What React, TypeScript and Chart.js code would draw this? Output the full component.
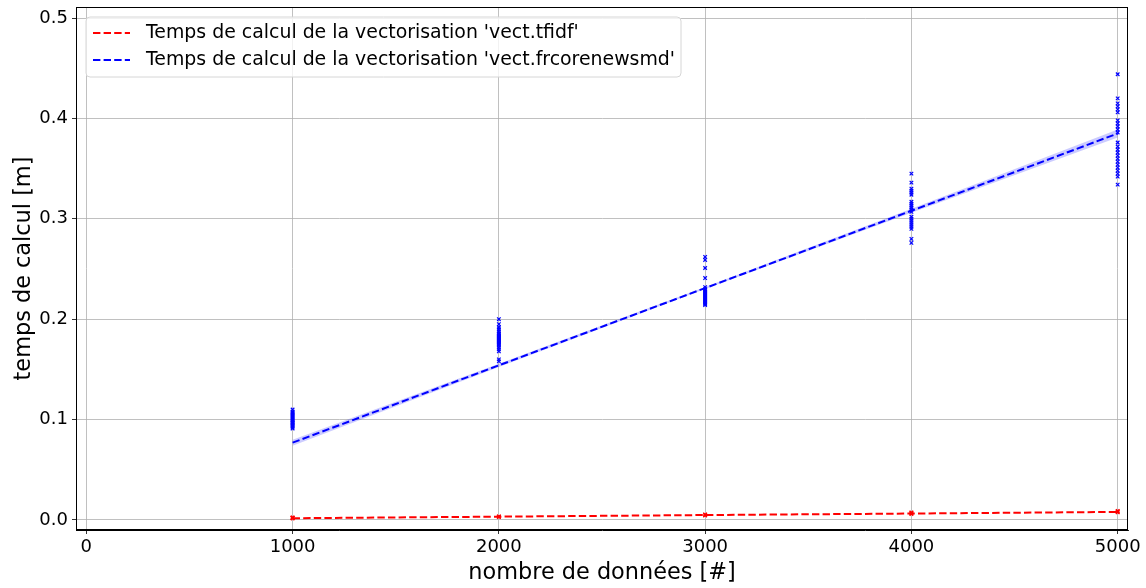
import React, { useEffect, useRef } from "react";
import { Chart, registerables } from "chart.js";

Chart.register(...registerables);

const xTicks = [0, 1000, 2000, 3000, 4000, 5000];
const yTicks = [0.0, 0.1, 0.2, 0.3, 0.4, 0.5];
const legendLabels = [
  "Temps de calcul de la vectorisation 'vect.tfidf'",
  "Temps de calcul de la vectorisation 'vect.frcorenewsmd'",
];
const xTitle = "nombre de données [#]";
const yTitle = "temps de calcul [m]";

const sizes = [1000, 2000, 3000, 4000, 5000];

const blue1000 = [0.110, 0.108, 0.107, 0.106, 0.105, 0.104, 0.103, 0.102, 0.101, 0.100, 0.099, 0.098, 0.097, 0.097, 0.096, 0.095, 0.094, 0.093, 0.092, 0.091];
const blue2000 = [0.200, 0.195, 0.192, 0.190, 0.188, 0.186, 0.185, 0.184, 0.183, 0.182, 0.181, 0.180, 0.179, 0.178, 0.177, 0.176, 0.175, 0.174, 0.172, 0.170, 0.168, 0.160, 0.158];
const blue3000 = [0.262, 0.259, 0.251, 0.241, 0.232, 0.230, 0.229, 0.228, 0.227, 0.226, 0.225, 0.224, 0.223, 0.222, 0.221, 0.220, 0.219, 0.218, 0.217, 0.216, 0.215, 0.214];
const blue4000 = [0.345, 0.336, 0.330, 0.328, 0.326, 0.324, 0.317, 0.315, 0.313, 0.311, 0.309, 0.307, 0.302, 0.300, 0.298, 0.296, 0.294, 0.292, 0.290, 0.280, 0.276];
const blue5000 = [0.444, 0.420, 0.415, 0.412, 0.409, 0.406, 0.398, 0.395, 0.392, 0.389, 0.386, 0.376, 0.372, 0.369, 0.366, 0.363, 0.360, 0.357, 0.354, 0.351, 0.348, 0.345, 0.342, 0.334];

const red1000 = [0.0015, 0.0018, 0.0020, 0.0022, 0.0025];
const red2000 = [0.0030, 0.0032, 0.0035];
const red3000 = [0.0045, 0.0050, 0.0055];
const red4000 = [0.0060, 0.0065, 0.0070, 0.0075];
const red5000 = [0.0075, 0.0080, 0.0085, 0.0090];

const blueFit = [0.077, 0.154, 0.231, 0.308, 0.385];
const blueLow = [0.074, 0.1525, 0.230, 0.306, 0.381];
const blueHigh = [0.080, 0.1555, 0.232, 0.310, 0.389];
const redFit = [0.0017, 0.0033, 0.0049, 0.0064, 0.0080];

const toPts = (x: number, ys: number[]) => ys.map((y) => ({ x, y }));
const line = (ys: number[]) => sizes.map((x, i) => ({ x, y: ys[i] }));

const FONT = "'DejaVu Sans', sans-serif";
const DASH = [7.4, 3.2];

const framePlugin = {
  id: "frameLegend",
  afterDraw(chart: any) {
    const { ctx, chartArea } = chart;
    ctx.save();
    ctx.strokeStyle = "#000";
    ctx.lineWidth = 1;
    ctx.strokeRect(chartArea.left + 0.5, chartArea.top + 0.5, chartArea.right - chartArea.left - 1, chartArea.bottom - chartArea.top - 1);

    // legend
    const bx = chartArea.left + 10;
    const by = chartArea.top + 10;
    const bw = 595;
    const bh = 60;
    const r = 4;
    ctx.beginPath();
    ctx.moveTo(bx + r, by);
    ctx.lineTo(bx + bw - r, by);
    ctx.quadraticCurveTo(bx + bw, by, bx + bw, by + r);
    ctx.lineTo(bx + bw, by + bh - r);
    ctx.quadraticCurveTo(bx + bw, by + bh, bx + bw - r, by + bh);
    ctx.lineTo(bx + r, by + bh);
    ctx.quadraticCurveTo(bx, by + bh, bx, by + bh - r);
    ctx.lineTo(bx, by + r);
    ctx.quadraticCurveTo(bx, by, bx + r, by);
    ctx.closePath();
    ctx.fillStyle = "rgba(255,255,255,0.8)";
    ctx.fill();
    ctx.strokeStyle = "#d6d6d6";
    ctx.stroke();

    const colors = ["#ff0000", "#0000ff"];
    ctx.font = `18.9px ${FONT}`;
    ctx.textBaseline = "middle";
    legendLabels.forEach((lab, i) => {
      const y = by + 16 + i * 27;
      ctx.beginPath();
      ctx.setLineDash(DASH);
      ctx.strokeStyle = colors[i];
      ctx.lineWidth = 2;
      ctx.moveTo(bx + 7, y);
      ctx.lineTo(bx + 44, y);
      ctx.stroke();
      ctx.setLineDash([]);
      ctx.fillStyle = "#000";
      ctx.fillText(lab, bx + 60, y);
    });
    ctx.restore();
  },
};

export default function App() {
  const ref = useRef<HTMLCanvasElement>(null);
  useEffect(() => {
    if (!ref.current) return;
    const scatterCommon = {
      showLine: false,
      pointStyle: "crossRot",
      pointRadius: 2.5,
      pointBorderWidth: 1.2,
    };
    const chart = new Chart(ref.current, {
      type: "scatter",
      data: {
        datasets: [
          {
            label: "low",
            data: line(blueLow),
            showLine: true,
            borderWidth: 0,
            borderColor: "rgba(0,0,0,0)",
            pointRadius: 0,
            fill: false,
          },
          {
            label: "high",
            data: line(blueHigh),
            showLine: true,
            borderWidth: 0,
            borderColor: "rgba(0,0,0,0)",
            backgroundColor: "rgba(0,0,255,0.2)",
            pointRadius: 0,
            fill: "-1",
          },
          {
            label: "blue pts",
            data: [
              ...toPts(1000, blue1000),
              ...toPts(2000, blue2000),
              ...toPts(3000, blue3000),
              ...toPts(4000, blue4000),
              ...toPts(5000, blue5000),
            ],
            borderColor: "#0000ff",
            backgroundColor: "#0000ff",
            ...scatterCommon,
          },
          {
            label: "red pts",
            data: [
              ...toPts(1000, red1000),
              ...toPts(2000, red2000),
              ...toPts(3000, red3000),
              ...toPts(4000, red4000),
              ...toPts(5000, red5000),
            ],
            borderColor: "#ff0000",
            backgroundColor: "#ff0000",
            ...scatterCommon,
          },
          {
            label: legendLabels[0],
            data: line(redFit),
            showLine: true,
            borderColor: "#ff0000",
            borderWidth: 2,
            borderDash: DASH,
            pointRadius: 0,
          },
          {
            label: legendLabels[1],
            data: line(blueFit),
            showLine: true,
            borderColor: "#0000ff",
            borderWidth: 2,
            borderDash: DASH,
            pointRadius: 0,
          },
        ] as any,
      },
      options: {
        animation: false,
        responsive: false,
        maintainAspectRatio: false,
        layout: { padding: { left: 0, top: 7, right: 18, bottom: 0 } },
        plugins: {
          legend: { display: false },
          tooltip: { enabled: false },
        },
        scales: {
          x: {
            type: "linear",
            min: -50,
            max: 5050,
            afterBuildTicks: (s: any) => {
              s.ticks = xTicks.map((v) => ({ value: v }));
            },
            afterFit: (s: any) => {
              s.height = 58;
              s.paddingLeft = 0;
              s.paddingRight = 0;
            },
            grid: { color: "#b0b0b0", lineWidth: 0.8, tickColor: "#000", tickLength: 4 },
            border: { color: "#000", width: 1 },
            ticks: {
              color: "#000",
              font: { family: FONT, size: 18 },
              padding: 3,
              maxRotation: 0,
              callback: (v: any) => String(v),
            },
            title: {
              display: true,
              text: xTitle,
              color: "#000",
              font: { family: FONT, size: 22.4 },
              padding: { top: 0, bottom: 1 },
            },
          },
          y: {
            type: "linear",
            min: -0.01,
            max: 0.511,
            afterBuildTicks: (s: any) => {
              s.ticks = yTicks.map((v) => ({ value: v }));
            },
            afterFit: (s: any) => {
              s.width = 76;
              s.paddingTop = 0;
              s.paddingBottom = 0;
            },
            grid: { color: "#b0b0b0", lineWidth: 0.8, tickColor: "#000", tickLength: 4 },
            border: { color: "#000", width: 1 },
            ticks: {
              color: "#000",
              font: { family: FONT, size: 18 },
              padding: 4,
              callback: (v: any) => Number(v).toFixed(1),
            },
            title: {
              display: true,
              text: yTitle,
              color: "#000",
              font: { family: FONT, size: 22.4 },
              padding: { top: 11, bottom: 0 },
            },
          },
        },
      } as any,
      plugins: [framePlugin],
    });
    return () => chart.destroy();
  }, []);
  return (
    <div style={{ position: "absolute", left: 0, top: 0, width: 1146, height: 588, background: "#fff" }}>
      <canvas ref={ref} width={1146} height={588} style={{ width: 1146, height: 588 }} />
    </div>
  );
}
